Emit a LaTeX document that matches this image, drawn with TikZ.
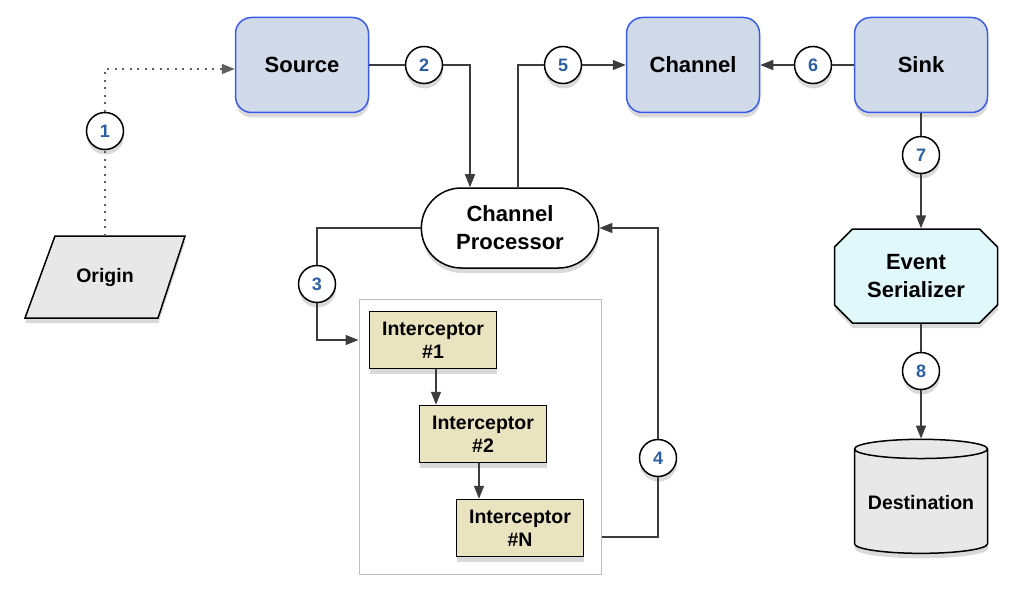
\documentclass[tikz,border=0pt]{standalone}
\usepackage{fontspec}
\setmainfont{Liberation Sans}
\usepackage{xcolor}
\definecolor{flumeBlue}{RGB}{58,92,236}
\definecolor{flumeFill}{RGB}{209,218,233}
\definecolor{flumeTan}{RGB}{233,227,192}
\definecolor{flumeCyan}{RGB}{224,247,252}
\definecolor{flumeGray}{RGB}{232,232,232}
\definecolor{flumeNum}{RGB}{43,95,165}
\definecolor{flumeLine}{RGB}{60,60,60}
\definecolor{flumeDots}{RGB}{95,95,95}
\definecolor{flumeFrame}{RGB}{200,184,192}
\usetikzlibrary{shapes.geometric, shapes.misc, arrows.meta, shadows}
\tikzstyle{shade} = [drop shadow={shadow xshift=0.5pt, shadow yshift=-5pt, opacity=0.3}]
\tikzstyle{block} = [draw=flumeBlue, line width=1.5pt, fill=flumeFill, rounded corners=16pt, minimum width=133pt, minimum height=95pt, font=\fontsize{22}{26}\selectfont\bfseries, shade]
\tikzstyle{procbox} = [draw=black, line width=1.5pt, fill=white, rounded rectangle, minimum width=184pt, minimum height=80pt, align=center, font=\fontsize{22}{28}\selectfont\bfseries, shade]
\tikzstyle{icpt} = [draw=black, line width=1.5pt, fill=flumeTan, rectangle, minimum width=127pt, minimum height=57pt, align=center, font=\fontsize{19.5}{23}\selectfont\bfseries, shade]
\tikzstyle{chainbox} = [draw=flumeFrame, line width=1pt, rectangle, minimum width=242pt, minimum height=275pt]
\tikzstyle{stepnum} = [draw=black, line width=1.5pt, fill=white, circle, minimum size=37pt, inner sep=0pt, text=flumeNum, font=\fontsize{18}{18}\selectfont\bfseries, shade]
\tikzstyle{flow} = [draw=flumeLine, line width=1.5pt]
\tikzstyle{dots} = [draw=flumeDots, line width=1.8pt, dash pattern=on 2pt off 5.5pt]

\begin{document}
\begin{tikzpicture}[x=1pt, y=-1pt, >={Triangle[length=13pt,width=10pt]}]
        \useasboundingbox (0,0) rectangle (1024,596);
        % components along the top
        \node [block] (source) at (302,65) {Source};
        \node [block] (channel) at (693,65) {Channel};
        \node [block] (sink) at (921,65) {Sink};
        % origin is a slanted box
        \filldraw [draw=black, line width=1.5pt, fill=flumeGray, shade] (55,236) -- (185,236) -- (158,318) -- (25,318) -- cycle;
        \node [minimum width=130pt, minimum height=82pt, font=\fontsize{19.5}{23}\selectfont\bfseries] (origin) at (105,277) {Origin};
        \node [procbox] (proc) at (510,228) {Channel\\Processor};

        % interceptor chain
        \node [chainbox] (chain) at (480,436.5) {};
        \node [icpt] (icpt1) at (433,340) {Interceptor\\\#1};
        \node [icpt] (icpt2) at (483,434) {Interceptor\\\#2};
        \node [icpt] (icptN) at (520,528) {Interceptor\\\#N};

        % sink side
        \node [chamfered rectangle, chamfered rectangle xsep=9pt, chamfered rectangle ysep=9pt, draw=black, line width=1.5pt, fill=flumeCyan, minimum width=163pt, minimum height=94pt, align=center, font=\fontsize{22}{28}\selectfont\bfseries, shade] (serial) at (916,276) {Event\\Serializer};
        \node [cylinder, shape border rotate=90, aspect=0.17, draw=black, line width=1.5pt, fill=flumeGray, minimum width=133pt, minimum height=114pt, font=\fontsize{19.5}{23}\selectfont\bfseries, shade] (dest) at (921,503) {Destination};

        % numbered steps
        \node [stepnum] (n1) at (105,131) {1};
        \node [stepnum] (n2) at (424,65) {2};
        \node [stepnum] (n3) at (317,284) {3};
        \node [stepnum] (n4) at (658,458) {4};
        \node [stepnum] (n5) at (563,65) {5};
        \node [stepnum] (n6) at (813,65) {6};
        \node [stepnum] (n7) at (921,155) {7};
        \node [stepnum] (n8) at (921,371) {8};

        \coordinate (chainOut) at ([yshift=-9pt]chain.east |- icptN.center);

        % connections
        \draw [dots] (origin.north) -- (n1);
        \draw [dots, ->] (n1) |- ([yshift=-4pt]source.west);
        \draw [flow] (source.east) -- (n2);
        \draw [flow, ->] (n2) -| ([xshift=-40pt]proc.north);
        \draw [flow] ([xshift=8pt]proc.north) |- (n5);
        \draw [flow, ->] (n5) -- (channel.west);
        \draw [flow] (sink.west) -- (n6);
        \draw [flow, ->] (n6) -- (channel.east);
        \draw [flow] (proc.west) -| (n3);
        \draw [flow, ->] (n3) |- (icpt1 -| chain.west);
        \draw [flow, ->] ([xshift=3pt]icpt1.south) -- ([xshift=3pt]icpt1.south |- icpt2.north);
        \draw [flow, ->] ([xshift=-4pt]icpt2.south) -- ([xshift=-4pt]icpt2.south |- icptN.north);
        \draw [flow] (chainOut) -| (n4);
        \draw [flow, ->] (n4) |- (proc.east);
        \draw [flow] (sink.south) -- (n7);
        \draw [flow, ->] (n7) -- (n7 |- serial.north);
        \draw [flow] (n8 |- serial.south) -- (n8);
        \draw [flow, ->] (n8) -- (dest.north);
    \end{tikzpicture}
\end{document}
